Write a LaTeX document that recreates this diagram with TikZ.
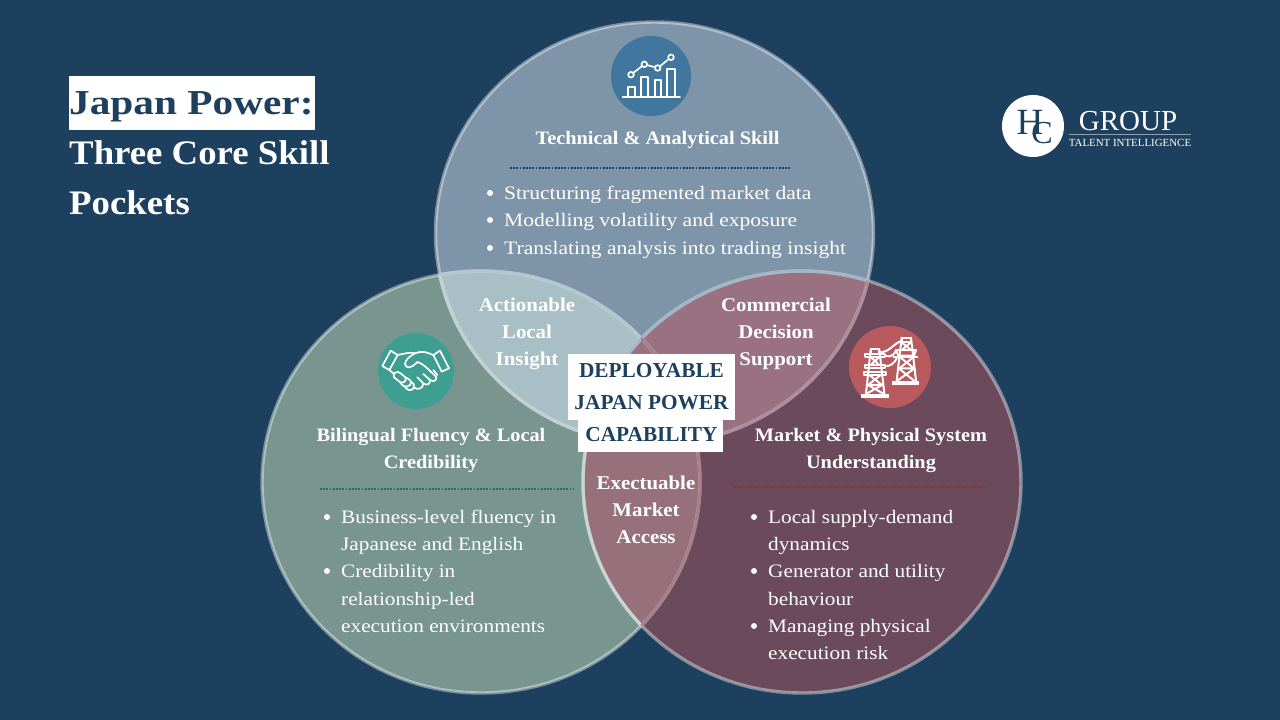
\documentclass[tikz,border=0pt]{standalone}
\usepackage{fontspec}
\setmainfont{Liberation Serif}[FakeStretch=1.12]
\newfontfamily\itemwide{Liberation Serif}[FakeStretch=1.135]
\newfontfamily\boldserif{Liberation Serif Bold}[FakeStretch=1.07]
\newfontfamily\boldplain{Liberation Serif Bold}
\newfontfamily\boldwide{Liberation Serif Bold}[FakeStretch=1.18]
\newfontfamily\logofont{Liberation Serif}
\definecolor{bg}{HTML}{1D405E}
\definecolor{topc}{HTML}{7E95A9}
\definecolor{leftc}{HTML}{78958F}
\definecolor{rightc}{HTML}{6A4A5B}
\definecolor{lt}{HTML}{A9BFC6}
\definecolor{rt}{HTML}{9A7180}
\definecolor{lr}{HTML}{96707A}
\definecolor{icoT}{HTML}{41779F}
\definecolor{icoL}{HTML}{3E9E91}
\definecolor{icoR}{HTML}{B85A5E}
\definecolor{dotL}{HTML}{2F6A5C}
\definecolor{dotR}{HTML}{8A2F3C}
\tikzset{
  x=1pt,y=-1pt,
  ring/.style={draw=white,draw opacity=.42,line width=3.4pt},
  edge/.style={line width=3pt},
  head/.style={font=\boldserif\fontsize{19}{27.5}\selectfont,text=white,align=center,inner sep=0pt},
  zone/.style={font=\boldserif\fontsize{19.5}{27}\selectfont,text=white,align=center,inner sep=0pt},
  item/.style={font=\fontsize{19}{27.5}\selectfont,text=white,anchor=base west,inner sep=0pt},
  bul/.style={circle,fill=white,minimum size=6pt,inner sep=0pt},
  core/.style={font=\boldplain\fontsize{21.3}{32}\selectfont,text=bg,anchor=base,inner sep=0pt},
  ttl/.style={font=\boldserif\fontsize{34.4}{40}\selectfont,anchor=base west,inner sep=0pt},
  ico/.style={draw=white,line width=1.7pt,line join=round,line cap=round},
  dots/.style={line width=2pt,dash pattern=on 1.8pt off 1.4pt},
}
\begin{document}
\begin{tikzpicture}
\path[use as bounding box] (0,0) rectangle (1280,720);
\fill[bg] (0,0) rectangle (1280,720);
% circles (slightly wider than tall, as in the reference)
\def\cirT{(654.5,233) ellipse[x radius=219,y radius=211]}
\def\cirL{(481,482) ellipse[x radius=219,y radius=211]}
\def\cirR{(802,482) ellipse[x radius=219,y radius=211]}
\fill[topc] \cirT;
\fill[leftc] \cirL;
\fill[rightc] \cirR;
\begin{scope}\clip \cirT; \fill[lt] \cirL; \end{scope}
\begin{scope}\clip \cirL; \fill[lr] \cirR; \end{scope}
\begin{scope}\clip \cirT; \fill[rt] \cirR; \end{scope}
\draw[ring] \cirT; \draw[ring] \cirL; \draw[ring] \cirR;
\definecolor{eTL}{HTML}{C2D0D2}\definecolor{eLT}{HTML}{B4C6CE}
\definecolor{eRT}{HTML}{A3B6C4}\definecolor{eTR}{HTML}{AD8F9B}
\definecolor{eLR}{HTML}{A87F8C}\definecolor{eRL}{HTML}{C8D5D5}
\begin{scope}\clip \cirL; \draw[edge,eTL] \cirT; \draw[edge,eRL] \cirR; \end{scope}
\begin{scope}\clip \cirT; \draw[edge,eLT] \cirL; \draw[edge,eRT] \cirR; \end{scope}
\begin{scope}\clip \cirR; \draw[edge,eTR] \cirT; \draw[edge,eLR] \cirL; \end{scope}
% title
\fill[white] (69,76) rectangle (315,130);
\node[ttl,font=\boldwide\fontsize{35}{40}\selectfont,text=bg] (t1) at (69,114) {Japan Power:};
\node[ttl,text=white] (t2) at (69,164) {Three Core Skill};
\node[ttl,text=white] (t3) at (69,214) {Pockets};
% logo
\node[circle,fill=white,minimum size=62pt,inner sep=0pt] (logo) at (1033,126) {};
\node[font=\logofont\fontsize{37}{37}\selectfont,text=bg,inner sep=0pt] (logoH) at (1030,122) {H};
\node[font=\logofont\fontsize{32}{32}\selectfont,text=bg,inner sep=0pt] (logoC) at (1042,133) {C};
\node[font=\logofont\fontsize{29}{29}\selectfont,text=white,anchor=base,inner sep=0pt] (grp) at (1128,130) {GROUP};
\coordinate (ra) at (1069,134); \coordinate (rb) at (1191,134);
\draw[white,opacity=.5,line width=.8pt] (ra) -- (rb);
\node[font=\logofont\fontsize{10.9}{11}\selectfont,text=white,anchor=base,inner sep=0pt] (tal) at (1130,146) {TALENT INTELLIGENCE};
% icon circles
\node[circle,fill=icoT,minimum size=80pt,inner sep=0pt] (iT) at (651,76) {};
\node[circle,fill=icoL,minimum size=76pt,inner sep=0pt] (iL) at (416,371) {};
\node[circle,fill=icoR,minimum size=82pt,inner sep=0pt] (iR) at (890,367) {};
% chart icon
\draw[ico] (622.7,96.7) -- (680,96.7);
\draw[ico] (627.7,96.7) |- (634.7,86.7) -- (634.7,96.7);
\draw[ico] (641.3,96.7) |- (648,76.7) -- (648,96.7);
\draw[ico] (654.7,96.7) |- (661.3,80) -- (661.3,96.7);
\draw[ico] (667,96.7) |- (674.7,69) -- (674.7,96.7);
\draw[ico] (631,74.7) -- (644.3,64.3) -- (657.7,68) -- (671,57.3);
\foreach \p in {(631,74.7),(644.3,64.3),(657.7,68),(671,57.3)} \filldraw[ico,fill=icoT] \p circle[radius=2.8];
% handshake icon
\begin{scope}[shift={(360,320)},x=.3333pt,y=-.3333pt,ico]
\draw (92,92) -- (113,105) -- (88,150) -- (67,138) -- cycle;
\draw (240,92) -- (267,145) -- (245,155) -- (220,105) -- cycle;
\draw (113,105) .. controls (130,102) and (150,95) .. (165,100) .. controls (185,92) and (200,95) .. (222,107);
\draw (165,100) .. controls (150,108) and (135,120) .. (135,132) .. controls (138,148) and (155,145) .. (172,126) .. controls (190,130) and (215,158) .. (228,170) .. controls (232,180) and (222,188) .. (210,180) -- (190,162);
\draw (210,180) .. controls (212,192) and (200,198) .. (190,190) -- (172,172);
\draw (190,190) .. controls (190,205) and (175,212) .. (160,202);
\draw (88,150) -- (100,160);
\draw (220,150) -- (232,165);
\draw (102,172) .. controls (96,160) and (112,150) .. (122,160) -- (136,172) .. controls (142,182) and (130,192) .. (120,186) -- cycle;
\draw (120,186) .. controls (125,198) and (140,205) .. (150,195) .. controls (158,185) and (150,178) .. (136,172);
\draw (132,197) .. controls (140,212) and (155,215) .. (162,203) .. controls (165,195) and (160,188) .. (152,185);
\end{scope}
% pylon icon
\begin{scope}[shift={(840,315)},x=.3333pt,y=-.3333pt,ico,line width=2pt]
\fill[white] (157,197) rectangle (238,210);
\fill[white] (63,236) rectangle (146,248);
% right tower
\draw (185,68) -- (213,68) -- (213,82) -- (185,82) -- cycle;
\draw (185,68) -- (170,197) (213,68) -- (228,197);
\draw (168,105) -- (228,105) -- (222,122) -- (175,122) -- cycle;
\draw (160,125) -- (232,125);
\draw (185,82) -- (213,105) (213,82) -- (185,105);
\draw (178,125) -- (222,160) (222,125) -- (178,160);
\draw (176,160) -- (224,160) (176,160) -- (222,197) (224,160) -- (172,197);
% left tower
\draw (92,103) -- (118,103) -- (118,118) -- (92,118) -- cycle;
\draw (92,103) -- (78,236) (118,103) -- (133,236);
\draw (75,116) -- (135,116) -- (135,126) -- (75,126) -- cycle;
\draw (75,150) -- (135,150) -- (135,158) -- (75,158) -- cycle;
\draw (72,172) -- (138,172) -- (138,180) -- (72,180) -- cycle;
\draw (92,126) -- (118,150) (118,126) -- (92,150);
\draw (88,180) -- (126,210) (122,180) -- (84,210);
\draw (84,210) -- (126,210) (84,210) -- (130,236) (126,210) -- (80,236);
% wires
\draw (118,112) .. controls (150,112) and (160,85) .. (185,78);
\draw (135,122) .. controls (150,128) and (165,120) .. (168,105);
\draw (135,153) .. controls (150,155) and (165,145) .. (172,125);
\end{scope}
% headings
\node[head] (hT) at (657.5,140) {Technical \& Analytical Skill};
\node[head,anchor=north] (hL) at (431,428) {Bilingual Fluency \& Local\\Credibility};
\node[head,anchor=north] (hR) at (871,428) {Market \& Physical System\\Understanding};
% dotted rules
\coordinate (a1) at (510,168); \coordinate (a2) at (790,168);
\coordinate (b1) at (320,489); \coordinate (b2) at (574,489);
\coordinate (c1) at (734,487); \coordinate (c2) at (987,487);
\draw[dots,draw=bg] (a1) -- (a2);
\draw[dots,draw=dotL] (b1) -- (b2);
\draw[dots,draw=dotR] (c1) -- (c2);
% top list
\node[bul] (bt1) at (490,193) {}; \node[item,font=\itemwide\fontsize{19}{27.5}\selectfont] (lt1) at (504,199) {Structuring fragmented market data};
\node[bul] (bt2) at (490,220) {}; \node[item,font=\itemwide\fontsize{19}{27.5}\selectfont] (lt2) at (504,226.5) {Modelling volatility and exposure};
\node[bul] (bt3) at (490,248) {}; \node[item,font=\itemwide\fontsize{19}{27.5}\selectfont] (lt3) at (504,254) {Translating analysis into trading insight};
% left list
\node[bul] (bl1) at (327,517) {}; \node[item] (ll1) at (341,523) {Business-level fluency in};
\node[item] (ll2) at (341,550) {Japanese and English};
\node[bul] (bl2) at (327,571) {}; \node[item] (ll3) at (341,577.5) {Credibility in};
\node[item] (ll4) at (341,605) {relationship-led};
\node[item] (ll5) at (341,632) {execution environments};
% right list
\node[bul] (br1) at (754,517) {}; \node[item] (lr1) at (768,523) {Local supply-demand};
\node[item] (lr2) at (768,550) {dynamics};
\node[bul] (br2) at (754,571) {}; \node[item] (lr3) at (768,577.5) {Generator and utility};
\node[item] (lr4) at (768,605) {behaviour};
\node[bul] (br3) at (754,626) {}; \node[item] (lr5) at (768,632) {Managing physical};
\node[item] (lr6) at (768,659) {execution risk};
% overlap labels
\node[zone] (zA) at (527,334) {Actionable\\Local\\Insight};
\node[zone] (zC) at (776,334) {Commercial\\Decision\\Support};
\node[zone] (zE) at (646,510) {Exectuable\\Market\\Access};
% centre
\fill[white] (568,354) rectangle (735,420);
\fill[white] (578,420) rectangle (723,452);
\node[core] (c1n) at (651.5,377) {DEPLOYABLE};
\node[core] (c2n) at (651.5,409) {JAPAN POWER};
\node[core] (c3n) at (651.5,441) {CAPABILITY};
\end{tikzpicture}
\end{document}
